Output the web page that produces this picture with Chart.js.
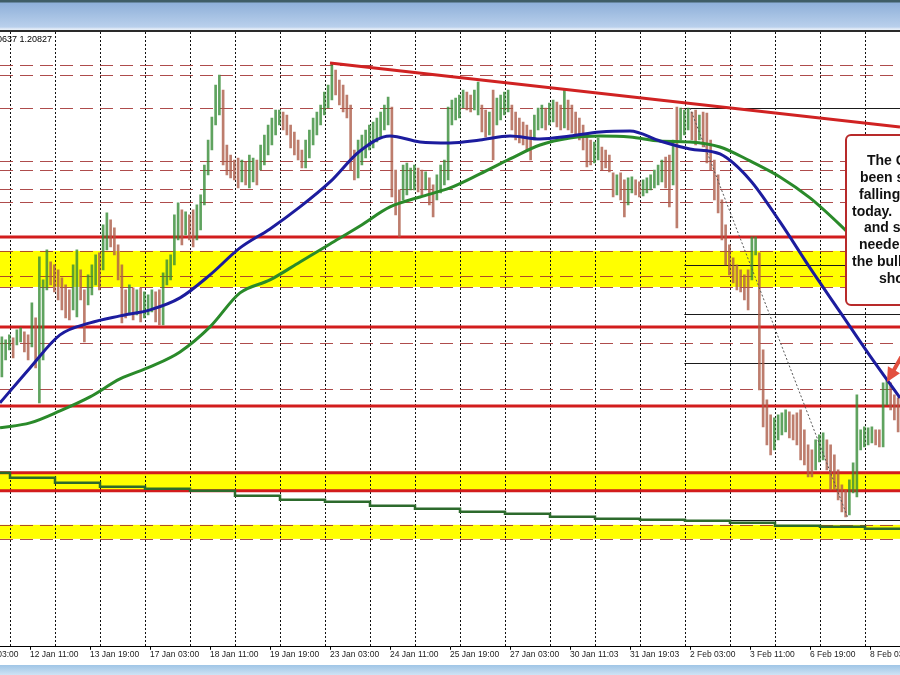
<!DOCTYPE html>
<html><head><meta charset="utf-8">
<script src="https://cdn.jsdelivr.net/npm/chart.js@4.4.0/dist/chart.umd.min.js"></script>
<style>
html,body{margin:0;padding:0;background:#fff;width:900px;height:675px;overflow:hidden;}
#hdr{position:absolute;left:0;top:0;width:900px;height:32px;background:linear-gradient(to bottom,#3f5d66 0px,#3f5d66 2px,#8fb0d9 3px,#b9d0ec 27px,#e4edf7 29px,#e4edf7 30px,#2a2a2a 30px,#2a2a2a 32px);}
#wrap{position:absolute;left:0;top:32px;width:900px;height:633px;}
#ftr{position:absolute;left:0;top:665px;width:900px;height:10px;background:linear-gradient(to bottom,#9fc5e6,#cfe3f4);}
</style></head><body>
<div id="hdr"></div><div id="wrap"><canvas id="c" width="900" height="633"></canvas></div><div id="ftr"></div>
<script>
// ---------- DATA ----------
const xLabels = ["11 Jan 03:00","12 Jan 11:00","13 Jan 19:00","17 Jan 03:00","18 Jan 11:00","19 Jan 19:00","23 Jan 03:00","24 Jan 11:00","25 Jan 19:00","27 Jan 03:00","30 Jan 11:03","31 Jan 19:03","2 Feb 03:00","3 Feb 11:00","6 Feb 19:00","8 Feb 03:00"];
const tickHours = [-16,16,48,80,112,144,176,208,240,272,304,336,368,400,432,464];

// 2-hour bars, high / low
const highs = [
1.2173,1.2170,1.2175,1.2172,1.2180,1.2182,1.2178,1.2175,
1.2207,1.2192,1.2253,1.2230,1.2260,1.2248,1.2245,1.2240,
1.2232,1.2225,1.2220,1.2245,1.2260,1.2240,1.2220,1.2235,
1.2245,1.2255,1.2257,1.2285,1.2297,1.2290,1.2282,1.2265,
1.2245,1.2220,1.2225,1.2222,1.2220,1.2222,1.2218,1.2215,
1.2220,1.2218,1.2220,1.2237,1.2250,1.2255,1.2295,1.2307,
1.2300,1.2298,1.2295,1.2300,1.2305,1.2315,1.2345,1.2370,
1.2393,1.2425,1.2435,1.2420,1.2365,1.2355,1.2350,1.2352,
1.2350,1.2348,1.2355,1.2352,1.2350,1.2365,1.2375,1.2385,
1.2392,1.2400,1.2400,1.2398,1.2395,1.2385,1.2378,1.2370,
1.2360,1.2370,1.2380,1.2392,1.2398,1.2405,1.2418,1.2425,
1.2447,1.2440,1.2430,1.2425,1.2415,1.2405,1.2360,1.2370,
1.2375,1.2380,1.2385,1.2388,1.2392,1.2398,1.2405,1.2413,
1.2403,1.2340,1.2320,1.2345,1.2347,1.2342,1.2345,1.2342,
1.2340,1.2338,1.2332,1.2325,1.2335,1.2345,1.2350,1.2403,
1.2410,1.2412,1.2415,1.2420,1.2418,1.2415,1.2420,1.2428,
1.2405,1.2400,1.2398,1.2420,1.2412,1.2415,1.2418,1.2420,
1.2405,1.2398,1.2392,1.2388,1.2385,1.2380,1.2395,1.2402,
1.2405,1.2402,1.2407,1.2410,1.2408,1.2405,1.2420,1.2410,
1.2405,1.2398,1.2392,1.2385,1.2373,1.2370,1.2368,1.2372,
1.2363,1.2360,1.2355,1.2337,1.2335,1.2337,1.2330,1.2332,
1.2333,1.2330,1.2328,1.2330,1.2332,1.2335,1.2340,1.2345,
1.2350,1.2353,1.2355,1.2370,1.2403,1.2402,1.2400,1.2402,
1.2398,1.2400,1.2395,1.2398,1.2397,1.2370,1.2350,1.2335,
1.2310,1.2285,1.2265,1.2252,1.2245,1.2240,1.2235,1.2240,
1.2273,1.2273,1.2257,1.2160,1.2110,1.2095,1.2092,1.2095,
1.2097,1.2100,1.2098,1.2095,1.2097,1.2100,1.2080,1.2065,
1.2060,1.2070,1.2075,1.2077,1.2070,1.2065,1.2055,1.2040,
1.2025,1.2020,1.2030,1.2047,1.2115,1.2080,1.2083,1.2082,
1.2083,1.2080,1.2080,1.2127,1.2130,1.2127,1.2115,1.2112
];
const lows = [
1.2133,1.2150,1.2160,1.2152,1.2165,1.2168,1.2158,1.2150,
1.2163,1.2142,1.2107,1.2150,1.2220,1.2225,1.2218,1.2210,
1.2200,1.2192,1.2190,1.2200,1.2193,1.2210,1.2168,1.2205,
1.2215,1.2225,1.2220,1.2240,1.2260,1.2263,1.2255,1.2230,
1.2187,1.2192,1.2195,1.2190,1.2195,1.2188,1.2192,1.2195,
1.2198,1.2188,1.2185,1.2185,1.2225,1.2230,1.2245,1.2270,
1.2265,1.2275,1.2270,1.2263,1.2270,1.2280,1.2305,1.2335,
1.2360,1.2385,1.2395,1.2345,1.2335,1.2332,1.2330,1.2322,
1.2328,1.2325,1.2322,1.2328,1.2325,1.2340,1.2345,1.2355,
1.2365,1.2375,1.2385,1.2380,1.2375,1.2362,1.2355,1.2350,
1.2342,1.2342,1.2352,1.2365,1.2375,1.2385,1.2395,1.2402,
1.2410,1.2415,1.2405,1.2398,1.2392,1.2340,1.2330,1.2332,
1.2345,1.2352,1.2360,1.2362,1.2368,1.2372,1.2380,1.2385,
1.2313,1.2295,1.2273,1.2310,1.2315,1.2320,1.2320,1.2318,
1.2315,1.2320,1.2305,1.2293,1.2310,1.2317,1.2325,1.2330,
1.2385,1.2390,1.2392,1.2402,1.2400,1.2398,1.2400,1.2395,
1.2378,1.2373,1.2375,1.2350,1.2385,1.2390,1.2395,1.2398,
1.2380,1.2370,1.2367,1.2365,1.2360,1.2350,1.2370,1.2380,
1.2382,1.2380,1.2385,1.2388,1.2383,1.2380,1.2382,1.2380,
1.2377,1.2372,1.2370,1.2360,1.2343,1.2345,1.2347,1.2350,
1.2340,1.2342,1.2338,1.2313,1.2315,1.2310,1.2293,1.2305,
1.2317,1.2315,1.2313,1.2314,1.2317,1.2320,1.2322,1.2325,
1.2328,1.2322,1.2303,1.2325,1.2282,1.2370,1.2375,1.2380,
1.2370,1.2365,1.2370,1.2363,1.2347,1.2340,1.2310,1.2297,
1.2270,1.2245,1.2235,1.2227,1.2220,1.2218,1.2210,1.2200,
1.2230,1.2255,1.2120,1.2083,1.2065,1.2055,1.2060,1.2070,
1.2075,1.2078,1.2072,1.2070,1.2065,1.2050,1.2045,1.2033,
1.2033,1.2040,1.2048,1.2050,1.2040,1.2020,1.2020,1.2010,
1.1998,1.1993,1.1995,1.2017,1.2013,1.2060,1.2063,1.2065,
1.2067,1.2065,1.2063,1.2063,1.2105,1.2100,1.2090,1.2078
];
const barHours = highs.map((_, i) => 2 * i + 1);

// 100-hour MA (blue)
const ma100Hours = [0,16,32,48,64,80,96,112,128,144,160,176,192,208,224,240,256,272,288,304,320,336,352,368,384,400,416,432,448,464,480];
const ma100 = [1.2107,1.2142,1.2175,1.2187,1.2194,1.2200,1.2212,1.2235,1.2262,1.2281,1.2303,1.2328,1.2359,1.2374,1.2368,1.2367,1.2370,1.2374,1.2371,1.2374,1.2378,1.2379,1.2369,1.2361,1.2356,1.2330,1.2288,1.2242,1.2198,1.2154,1.2112];
// 200-hour MA (green)
const ma200Hours = [0,16,32,48,64,80,96,112,128,144,160,176,192,208,224,240,256,272,288,304,320,336,352,368,384,400,416,432,448,464];
const ma200 = [1.2082,1.2087,1.2099,1.2113,1.2131,1.2143,1.2158,1.2183,1.2217,1.2230,1.2248,1.2266,1.2284,1.2303,1.2313,1.2322,1.2336,1.2351,1.2365,1.2372,1.2374,1.2373,1.2369,1.2368,1.2363,1.2349,1.2333,1.2312,1.2285,1.2255];
// daily MA (stepped, changes at each day start)
const dailyMaHours = [0,5.33,29.33,53.33,77.33,101.33,125.33,149.33,173.33,197.33,221.33,245.33,269.33,293.33,317.33,341.33,365.33,389.33,413.33,437.33,461.33,480];
const dailyMa = [1.2037,1.2032,1.2027,1.2023,1.2021,1.2019,1.2014,1.2010,1.2008,1.2004,1.2001,1.1998,1.1996,1.1993,1.1991,1.1990,1.1989,1.1987,1.1984,1.1983,1.1981,1.1981];

// drawn levels
const dashedLevels = [1.2445,1.2435,1.2402,1.2349,1.2340,1.2321,1.2308,1.2259,1.2234,1.2223,1.2167,1.2121,1.1985,1.1971];
const redLevels = [1.2273,1.2183,1.2104,1.2037,1.2019];
const zoneTop = [1.2259,1.2037,1.1985];
const zoneBottom = [1.2223,1.2019,1.1971];
const fibLevels = [1.2402,1.2245,1.2196,1.2147,1.1990];
const fibStartHour = 365;
const trendHours = [176,480];
const trendPrices = [1.2447,1.2383];
const fibDiagHours = [368,452];
const fibDiagPrices = [1.2402,1.1993];
const dayStartHour = 5.33;

// ---------- CHART ----------
const barColors = highs.map((h, i) => {
  const mid = (h + lows[i]) / 2;
  const prev = i > 0 ? (highs[i-1] + lows[i-1]) / 2 : mid;
  return mid >= prev ? 'rgba(55,140,55,0.8)' : 'rgba(172,92,72,0.8)';
});
const pts = (xs, ys) => xs.map((x, i) => ({x: x, y: ys[i]}));

const levelsPlugin = {
  id: 'levels',
  beforeDatasetsDraw(chart) {
    const {ctx, chartArea: a, scales: {x, y}} = chart;
    ctx.save();
    ctx.beginPath(); ctx.rect(a.left, a.top, a.right - a.left, a.bottom - a.top); ctx.clip();
    ctx.fillStyle = '#ffff00';
    zoneTop.forEach((t, i) => {
      const y1 = y.getPixelForValue(t), y2 = y.getPixelForValue(zoneBottom[i]);
      ctx.fillRect(a.left, y1, a.right - a.left, y2 - y1);
    });
    ctx.strokeStyle = '#111'; ctx.lineWidth = 1; ctx.setLineDash([2, 2]);
    for (let h = dayStartHour; h <= 480; h += 24) {
      const px = Math.round(x.getPixelForValue(h)) + 0.5;
      ctx.beginPath(); ctx.moveTo(px, a.top); ctx.lineTo(px, a.bottom); ctx.stroke();
    }
    ctx.strokeStyle = 'rgba(160,45,45,0.85)'; ctx.setLineDash([13, 7]);
    dashedLevels.forEach(v => {
      const py = Math.round(y.getPixelForValue(v)) + 0.5;
      ctx.beginPath(); ctx.moveTo(a.left, py); ctx.lineTo(a.right, py); ctx.stroke();
    });
    ctx.setLineDash([]); ctx.strokeStyle = '#1a1a1a';
    const fx = x.getPixelForValue(fibStartHour);
    fibLevels.forEach(v => {
      const py = Math.round(y.getPixelForValue(v)) + 0.5;
      ctx.beginPath(); ctx.moveTo(fx, py); ctx.lineTo(a.right, py); ctx.stroke();
    });
    ctx.strokeStyle = '#d21c1c'; ctx.lineWidth = 3;
    redLevels.forEach(v => {
      const py = y.getPixelForValue(v);
      ctx.beginPath(); ctx.moveTo(a.left, py); ctx.lineTo(a.right, py); ctx.stroke();
    });
    ctx.restore();
  },
  afterDraw(chart) {
    const ctx = chart.ctx;
    ctx.save();
    // header price text
    ctx.fillStyle = '#000'; ctx.font = '9px "Liberation Sans", Arial, sans-serif';
    ctx.textAlign = 'right'; ctx.textBaseline = 'middle';
    ctx.fillText('1.20637 1.20827', 52, 8);
    // annotation box
    ctx.fillStyle = '#fff'; ctx.strokeStyle = '#b82a2a'; ctx.lineWidth = 2;
    ctx.beginPath(); ctx.roundRect(846, 103, 140, 170, 5); ctx.fill(); ctx.stroke();
    ctx.fillStyle = '#111'; ctx.font = 'bold 14px "Liberation Sans", Arial, sans-serif';
    ctx.textAlign = 'left';
    const lines = [['The GBPUSD has', 867], ['been steadily', 860], ['falling  lower', 859], ['today.    Tested MA', 852], ['and sellers', 864], ['needed a', 859], ['the bulls', 852], ['short', 879]];
    lines.forEach((l, i) => ctx.fillText(l[0], l[1], 129 + i * 16.9));
    // arrow
    ctx.strokeStyle = '#e2503f'; ctx.fillStyle = '#e2503f'; ctx.lineWidth = 4;
    const sx = 918, sy = 296, tx = 887, ty = 350;
    const dx = tx - sx, dy = ty - sy, L = Math.hypot(dx, dy), ux = dx / L, uy = dy / L;
    ctx.beginPath(); ctx.moveTo(sx, sy); ctx.lineTo(tx - ux * 11, ty - uy * 11); ctx.stroke();
    ctx.beginPath(); ctx.moveTo(tx, ty);
    ctx.lineTo(tx - ux * 14 - uy * 7, ty - uy * 14 + ux * 7);
    ctx.lineTo(tx - ux * 14 + uy * 7, ty - uy * 14 - ux * 7);
    ctx.closePath(); ctx.fill();
    ctx.restore();
  }
};

new Chart(document.getElementById('c'), {
  type: 'bar',
  data: {
    datasets: [
      { type: 'bar', data: barHours.map((h, i) => ({x: h, y: [lows[i], highs[i]]})), backgroundColor: barColors, borderWidth: 0, barThickness: 2, grouped: false, order: 10 },
      { type: 'line', data: pts(dailyMaHours, dailyMa), borderColor: '#2c6a2c', borderWidth: 2.5, stepped: 'before', pointRadius: 0, order: 4 },
      { type: 'line', data: pts(fibDiagHours, fibDiagPrices), borderColor: '#555', borderWidth: 1, borderDash: [2, 2], pointRadius: 0, order: 3 },
      { type: 'line', data: pts(ma200Hours, ma200), borderColor: '#2a8a2a', borderWidth: 3, cubicInterpolationMode: 'monotone', pointRadius: 0, order: 2 },
      { type: 'line', data: pts(ma100Hours, ma100), borderColor: '#1c1c9e', borderWidth: 3, cubicInterpolationMode: 'monotone', pointRadius: 0, order: 1 },
      { type: 'line', data: pts(trendHours, trendPrices), borderColor: '#d02222', borderWidth: 3, pointRadius: 0, order: 0 }
    ]
  },
  options: {
    responsive: false, animation: false, devicePixelRatio: 1,
    layout: { padding: { top: 0, bottom: 5, left: 0, right: 0 } },
    plugins: { legend: { display: false }, tooltip: { enabled: false } },
    scales: {
      x: {
        type: 'linear', min: 0, max: 480, bounds: 'data', offset: false, position: 'bottom',
        afterBuildTicks: s => { s.ticks = tickHours.map(v => ({value: v})); },
        afterFit: s => { s.paddingLeft = 0; s.paddingRight = 0; },
        ticks: { autoSkip: false, maxRotation: 0, minRotation: 0, align: 'start', padding: 0, color: '#1a1a1a',
          font: { family: '"Liberation Sans", Arial, sans-serif', size: 8.5 },
          callback: (v, i) => xLabels[i] },
        grid: { drawOnChartArea: false, drawTicks: true, tickLength: 3, color: '#000', offset: false },
        border: { display: true, color: '#000', width: 1 }
      },
      y: { type: 'linear', display: false, min: 1.1863, max: 1.2478, bounds: 'data' }
    }
  },
  plugins: [levelsPlugin]
});
</script></body></html>
